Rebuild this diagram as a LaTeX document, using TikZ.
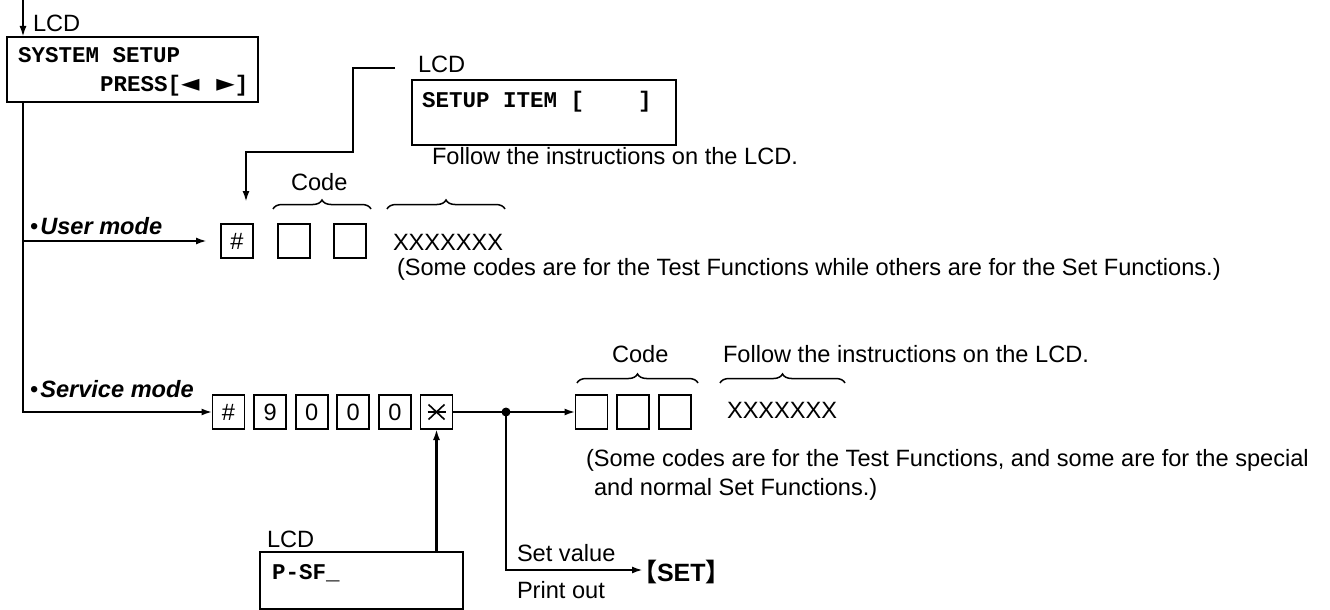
\documentclass[tikz,border=0pt]{standalone}
\usepackage{fontspec}
\setmainfont{Liberation Sans}
\setmonofont{Liberation Mono}
\newfontfamily\symfont{DejaVu Sans}
\newfontfamily\cjkfont{Noto Sans CJK SC}
\usetikzlibrary{arrows.meta,decorations.pathreplacing}
\begin{document}
\begin{tikzpicture}[x=1pt,y=-1pt,
  every node/.style={inner sep=0pt, outer sep=0pt},
  txt/.style={font=\fontsize{23.6}{28}\selectfont, anchor=base west},
  mono/.style={font=\fontsize{22.5}{27}\selectfont\ttfamily\bfseries, anchor=base west},
  mode/.style={font=\fontsize{23.6}{28}\selectfont\bfseries\itshape, anchor=base west},
  lcdbox/.style={draw, line width=2pt, anchor=north west},
  key/.style={draw, line width=1.8pt, minimum width=32pt, minimum height=34pt,
              font=\fontsize{23.6}{28}\selectfont},
  conn/.style={line width=2.1pt},
  arr/.style={conn, -{Latex[length=11pt,width=7pt]}},
  brc/.style={line width=1.5pt, decorate, decoration={brace, amplitude=9pt}},
]
\useasboundingbox (0,0) rectangle (1330,610);

% ---------- top LCD box ----------
\node[lcdbox, minimum width=251pt, minimum height=65pt] (b1) at (7,37) {};
\node[txt] (lcd1) at (33,32) {LCD};
\node[mono] (t1a) at (18,63) {SYSTEM SETUP};
\node[mono] (t1b) at (100,92) {PRESS[{\symfont\fontsize{24}{24}\selectfont ◄}\hspace{17pt}{\symfont\fontsize{24}{24}\selectfont ►}]};
\coordinate (top) at (23,0);
\draw[arr] (top) -- (top |- b1.north);

% ---------- main vertical and branches ----------
\coordinate (vbot) at (23,412);
\coordinate (ubr) at (23,241);
\coordinate (uend) at (207,241);
\node[mode] (um) at (30,234) {\mdseries\upshape•\kern2pt\bfseries\itshape User mode};
\node[mode] (sm) at (30,397) {\mdseries\upshape•\kern2pt\bfseries\itshape Service mode};
\draw[arr] (ubr) -- (uend);

% ---------- user mode keys ----------
\node[key] (u1) at (237,241) {\#};
\node[key] (u2) at (294,241) {};
\node[key] (u3) at (350,241) {};
\draw[brc] (273,209) -- (371,209);
\node[txt] (ucode) at (291,190) {Code};
\draw[brc] (387,209) -- (505,209);
\node[txt] (ux) at (393,250) {XXXXXXX};
\node[txt] (unote) at (397,275) {(Some codes are for the Test Functions while others are for the Set Functions.)};

% ---------- second LCD box ----------
\node[lcdbox, minimum width=264pt, minimum height=65pt] (b2) at (412,80) {};
\node[txt] (lcd2) at (418,73) {LCD};
\node[mono] (t2) at (422,107) {SETUP ITEM [\ \ \ \ ]};
\node[txt] (follow1) at (432,164) {Follow the instructions on the LCD.};
\coordinate (l2a) at (395,68);
\coordinate (l2b) at (353,68);
\coordinate (l2c) at (353,152);
\coordinate (l2d) at (246,152);
\coordinate (l2e) at (246,202);
\draw[arr] (l2a) -- (l2b) -- (l2c) -- (l2d) -- (l2e);

% ---------- service mode keys ----------
\node[key] (s1) at (228.5,412) {\#};
\node[key] (s2) at (270.1,412) {9};
\node[key] (s3) at (311.7,412) {0};
\node[key] (s4) at (353.3,412) {0};
\node[key] (s5) at (394.9,412) {0};
\node[key] (s6) at (436.5,412) {};
\draw[line width=1.6pt] ([shift={(-9,0)}]s6.center) -- ([shift={(9,0)}]s6.center);
\draw[line width=1.6pt] ([shift={(-8,-7.5)}]s6.center) -- ([shift={(8,7.5)}]s6.center);
\draw[line width=1.6pt] ([shift={(-8,7.5)}]s6.center) -- ([shift={(8,-7.5)}]s6.center);
\draw[arr] (b1.south -| vbot) -- (vbot) -- (s1.west);

\coordinate (dot) at (506,412);
\node[key] (c1) at (591.5,412) {};
\node[key] (c2) at (633.1,412) {};
\node[key] (c3) at (674.7,412) {};
\draw[conn] (s6.east) -- (dot);
\draw[arr] (dot) -- (c1.west);
\fill (dot) circle (4.5);

\draw[brc] (577,383) -- (698,383);
\node[txt] (scode) at (612,362) {Code};
\draw[brc] (720,383) -- (845,383);
\node[txt] (follow2) at (723,362) {Follow the instructions on the LCD.};
\node[txt] (sx) at (727,418) {XXXXXXX};
\node[txt] (snote1) at (586,466) {(Some codes are for the Test Functions, and some are for the special};
\node[txt] (snote2) at (594,495) {and normal Set Functions.)};

% ---------- P-SF box ----------
\node[lcdbox, minimum width=203pt, minimum height=57pt] (b3) at (260,552) {};
\node[txt] (lcd3) at (267,547) {LCD};
\node[mono] (t3) at (272,579) {P-SF\_};
\draw[arr] (b3.north -| s6) -- (s6.south);

% ---------- SET ----------
\coordinate (setc) at (506,570);
\coordinate (sete) at (643,570);
\draw[arr] (dot) -- (setc) -- (sete);
\node[txt] (setv) at (517,561) {Set value};
\node[txt] (pout) at (517,598) {Print out};
\node[txt, font=\fontsize{25}{28}\selectfont\bfseries] (setk) at (632,581) {{\cjkfont 【}SET{\cjkfont 】}};
\end{tikzpicture}
\end{document}
